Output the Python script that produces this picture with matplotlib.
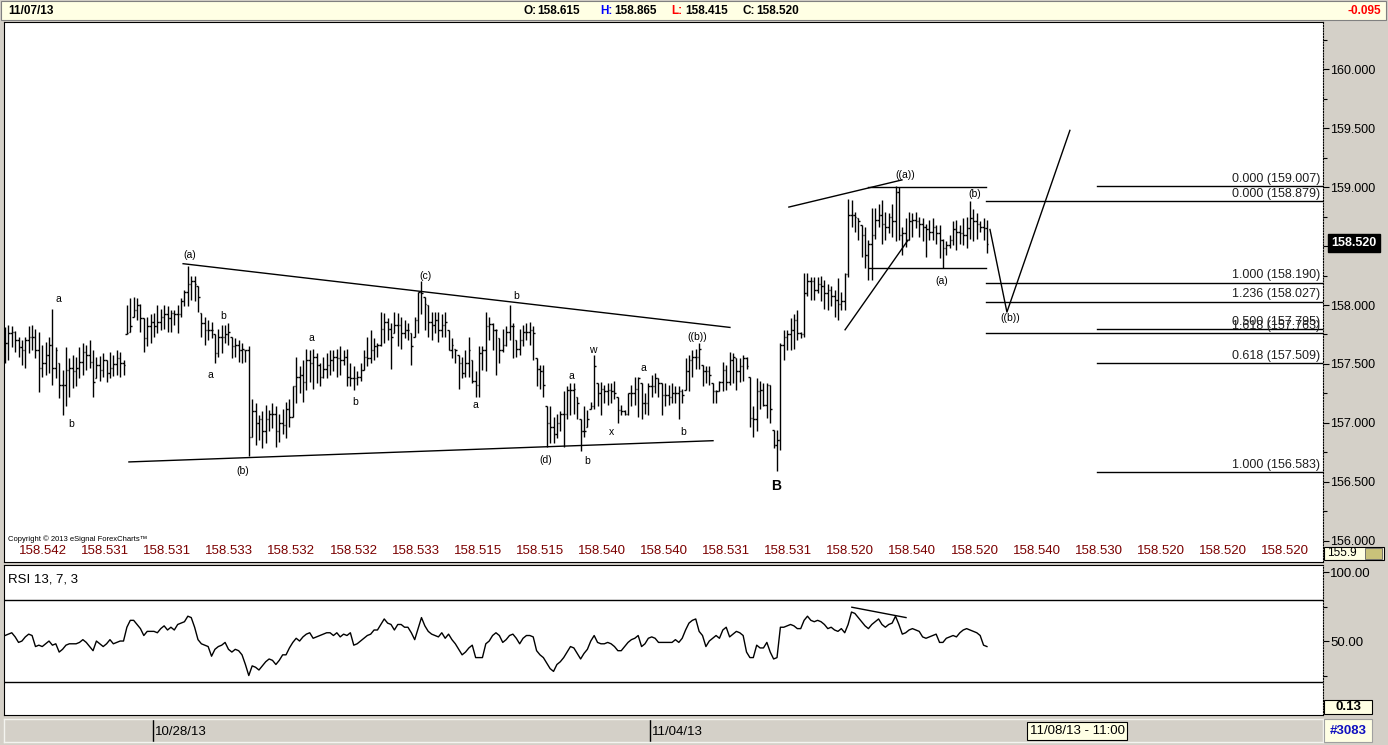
import numpy as np
import matplotlib
matplotlib.use('Agg')
import matplotlib.pyplot as plt
from matplotlib.patches import Rectangle

plt.rcParams['font.family'] = ['Liberation Sans', 'DejaVu Sans']

W, H = 1388, 745

# hourly bars (high / low / close), oldest first
highs = [
    157.81, 157.83, 157.82, 157.78, 157.73, 157.70, 157.73, 157.82, 157.83, 157.80,
    157.77, 157.66, 157.69, 157.73, 157.97, 157.64, 157.51, 157.45, 157.64, 157.55,
    157.58, 157.56, 157.64, 157.68, 157.66, 157.70, 157.62, 157.56, 157.57, 157.59,
    157.53, 157.60, 157.58, 157.62, 157.60, 157.53,
    158.00, 158.06, 158.07, 158.06, 158.01, 157.89, 157.90, 157.92, 157.93, 158.00,
    157.97, 158.00, 157.99, 157.96, 157.96, 158.00, 158.06, 158.13, 158.33, 158.25,
    158.25, 158.16, 157.93, 157.90, 157.87, 157.86, 157.75, 157.80, 157.83, 157.83,
    157.85, 157.73, 157.72, 157.70, 157.68, 157.62,
    157.65, 157.20, 157.17, 157.07, 157.10, 157.15, 157.11, 157.17, 157.14, 157.08,
    157.12, 157.18, 157.20, 157.31, 157.56, 157.48, 157.53, 157.63, 157.62, 157.63,
    157.59, 157.51, 157.56, 157.59, 157.62, 157.62, 157.63,
    157.65, 157.62, 157.63, 157.51, 157.48, 157.44, 157.51, 157.62, 157.73, 157.79,
    157.72, 157.68, 157.94, 157.93, 157.89, 157.85, 157.94, 157.93, 157.90, 157.87,
    157.85, 157.76, 157.90, 158.11, 158.20, 158.07, 158.00, 157.94, 157.94, 157.94,
    157.92, 157.94, 157.79, 157.72, 157.63, 157.58, 157.56, 157.62, 157.73, 157.53,
    157.44, 157.65, 157.65, 157.94, 157.90, 157.85, 157.80, 157.72, 157.80, 157.82,
    158.00, 157.85, 157.70, 157.80, 157.83, 157.85, 157.86, 157.82, 157.55, 157.49,
    157.49, 157.14, 157.14, 157.05, 157.08, 157.10, 157.27, 157.31, 157.34, 157.34,
    157.22, 157.03, 157.14, 157.11, 157.18, 157.58, 157.34, 157.35, 157.32, 157.34,
    157.34, 157.36, 157.22, 157.15, 157.11, 157.25, 157.32, 157.39, 157.39, 157.34,
    157.25, 157.34, 157.41, 157.42, 157.38, 157.34,
    157.34, 157.32, 157.34, 157.31, 157.31, 157.29, 157.55, 157.58, 157.62, 157.63,
    157.68, 157.49, 157.48, 157.48, 157.34, 157.28, 157.36, 157.52, 157.49, 157.60,
    157.59, 157.55, 157.55, 157.58, 157.56, 157.39, 157.14, 157.38, 157.36, 157.34,
    157.34, 157.32, 156.94, 156.94,
    157.68, 157.79, 157.79, 157.89, 157.92, 157.96, 157.77, 158.27, 158.27, 158.24,
    158.24, 158.24, 158.25, 158.21, 158.18, 158.16, 158.13, 158.23, 158.11, 158.27,
    158.90, 158.89, 158.79, 158.74, 158.68, 158.66, 158.55, 158.82, 158.82, 158.86,
    158.89, 158.79, 158.78, 158.86, 159.01, 159.00, 158.66, 158.74, 158.79, 158.78,
    158.79, 158.75, 158.74, 158.69, 158.72, 158.74, 158.68, 158.68, 158.56, 158.54,
    158.59, 158.71, 158.72, 158.68, 158.74, 158.75, 158.88, 158.81, 158.78, 158.71,
    158.74, 158.72,
]
lows = [
    157.51, 157.53, 157.64, 157.60, 157.56, 157.49, 157.47, 157.59, 157.62, 157.55,
    157.26, 157.39, 157.41, 157.42, 157.32, 157.38, 157.21, 157.07, 157.14, 157.22,
    157.30, 157.31, 157.38, 157.41, 157.45, 157.47, 157.22, 157.38, 157.36, 157.39,
    157.35, 157.38, 157.40, 157.41, 157.39, 157.41,
    157.75, 157.77, 157.90, 157.87, 157.77, 157.60, 157.65, 157.68, 157.73, 157.76,
    157.79, 157.80, 157.77, 157.77, 157.83, 157.76, 157.90, 157.99, 157.99, 158.04,
    158.03, 157.94, 157.73, 157.66, 157.70, 157.72, 157.51, 157.56, 157.59, 157.68,
    157.66, 157.55, 157.56, 157.52, 157.51, 157.52,
    156.72, 156.88, 156.81, 156.86, 156.79, 156.83, 156.93, 156.96, 156.80, 156.84,
    156.91, 156.87, 156.97, 157.05, 157.17, 157.25, 157.18, 157.28, 157.35, 157.29,
    157.34, 157.31, 157.38, 157.38, 157.41, 157.44, 157.39,
    157.41, 157.49, 157.31, 157.31, 157.28, 157.32, 157.36, 157.45, 157.48, 157.51,
    157.53, 157.56, 157.65, 157.68, 157.70, 157.46, 157.76, 157.65, 157.63, 157.72,
    157.70, 157.49, 157.73, 157.76, 157.92, 157.79, 157.73, 157.70, 157.76, 157.69,
    157.73, 157.73, 157.62, 157.55, 157.51, 157.29, 157.38, 157.39, 157.39, 157.34,
    157.22, 157.22, 157.45, 157.44, 157.70, 157.62, 157.41, 157.51, 157.60, 157.65,
    157.70, 157.55, 157.56, 157.58, 157.65, 157.70, 157.66, 157.53, 157.31, 157.29,
    157.22, 156.80, 156.83, 156.83, 156.87, 156.93, 156.80, 157.03, 157.07, 157.08,
    157.03, 156.76, 156.88, 156.97, 157.12, 157.12, 157.14, 157.07, 157.17, 157.15,
    157.17, 157.20, 157.00, 157.07, 157.07, 157.07, 157.14, 157.15, 157.05, 157.03,
    157.08, 157.07, 157.22, 157.25, 157.22, 157.07,
    157.14, 157.15, 157.17, 157.17, 157.03, 157.17, 157.28, 157.27, 157.39, 157.46,
    157.46, 157.31, 157.34, 157.32, 157.17, 157.17, 157.27, 157.27, 157.28, 157.32,
    157.34, 157.28, 157.35, 157.36, 157.46, 156.97, 156.88, 156.93, 157.12, 157.14,
    157.04, 157.00, 156.79, 156.59,
    156.77, 157.53, 157.62, 157.62, 157.63, 157.70, 157.72, 157.73, 158.08, 158.04,
    158.04, 158.10, 158.03, 157.97, 157.96, 157.99, 157.90, 157.87, 157.96, 157.96,
    158.24, 158.66, 158.62, 158.55, 158.41, 158.31, 158.21, 158.21, 158.56, 158.66,
    158.52, 158.55, 158.61, 158.58, 158.54, 158.55, 158.42, 158.49, 158.55, 158.58,
    158.65, 158.58, 158.54, 158.41, 158.55, 158.55, 158.52, 158.40, 158.31, 158.42,
    158.48, 158.51, 158.47, 158.52, 158.51, 158.48, 158.56, 158.54, 158.56, 158.62,
    158.55, 158.44,
]
closes = [
    157.68, 157.76, 157.77, 157.70, 157.64, 157.62, 157.70, 157.73, 157.73, 157.62,
    157.47, 157.51, 157.58, 157.66, 157.47, 157.62, 157.32, 157.32, 157.45, 157.47,
    157.44, 157.47, 157.52, 157.60, 157.58, 157.52, 157.35, 157.49, 157.45, 157.53,
    157.42, 157.47, 157.50, 157.55, 157.51, 157.49,
    157.76, 157.82, 157.96, 158.00, 157.89, 157.72, 157.82, 157.86, 157.82, 157.86,
    157.90, 157.92, 157.89, 157.93, 157.92, 157.92, 158.03, 158.11, 158.18, 158.20,
    158.18, 158.07, 157.85, 157.79, 157.79, 157.79, 157.59, 157.73, 157.73, 157.75,
    157.77, 157.65, 157.66, 157.62, 157.63, 157.62,
    156.88, 157.10, 157.00, 157.03, 156.93, 157.03, 157.08, 157.08, 156.93, 157.00,
    156.98, 157.12, 157.05, 157.31, 157.39, 157.41, 157.35, 157.53, 157.51, 157.56,
    157.49, 157.39, 157.46, 157.49, 157.53, 157.56, 157.55,
    157.53, 157.56, 157.39, 157.38, 157.38, 157.39, 157.45, 157.56, 157.55, 157.62,
    157.65, 157.66, 157.80, 157.86, 157.80, 157.73, 157.83, 157.83, 157.76, 157.79,
    157.79, 157.65, 157.87, 158.11, 158.10, 158.01, 157.86, 157.83, 157.87, 157.79,
    157.83, 157.86, 157.62, 157.66, 157.62, 157.51, 157.42, 157.51, 157.62, 157.36,
    157.32, 157.59, 157.62, 157.82, 157.84, 157.79, 157.79, 157.62, 157.66, 157.77,
    157.82, 157.82, 157.63, 157.70, 157.77, 157.77, 157.79, 157.76, 157.46, 157.44,
    157.32, 157.00, 156.97, 156.91, 157.00, 157.08, 157.08, 157.28, 157.28, 157.29,
    157.17, 156.93, 156.93, 157.03, 157.14, 157.48, 157.25, 157.29, 157.27, 157.28,
    157.27, 157.25, 157.11, 157.10, 157.08, 157.25, 157.25, 157.29, 157.38, 157.17,
    157.17, 157.31, 157.31, 157.38, 157.34, 157.24,
    157.24, 157.22, 157.25, 157.25, 157.27, 157.24, 157.44, 157.53, 157.56, 157.56,
    157.63, 157.44, 157.44, 157.41, 157.27, 157.27, 157.35, 157.45, 157.35, 157.53,
    157.56, 157.44, 157.48, 157.55, 157.48, 157.04, 157.03, 157.27, 157.28, 157.15,
    157.32, 157.12, 156.81, 156.86,
    157.66, 157.73, 157.75, 157.79, 157.87, 157.76, 157.75, 158.10, 158.20, 158.20,
    158.13, 158.18, 158.16, 158.10, 158.13, 158.08, 158.04, 158.01, 158.03, 158.26,
    158.76, 158.76, 158.75, 158.71, 158.59, 158.42, 158.52, 158.59, 158.72, 158.76,
    158.69, 158.66, 158.75, 158.71, 158.96, 158.59, 158.61, 158.55, 158.71, 158.72,
    158.71, 158.69, 158.66, 158.64, 158.62, 158.66, 158.61, 158.55, 158.48, 158.51,
    158.55, 158.64, 158.62, 158.61, 158.59, 158.65, 158.74, 158.71, 158.69, 158.66,
    158.65, 158.52,
]
first_open = 157.70

# RSI 13, 7, 3 - one value per bar
rsi = [
    54, 55, 56, 53, 49, 50, 53, 55, 54, 46, 47, 46, 48, 50, 47, 48, 42, 44, 47, 48,
    48, 48, 49, 51, 49, 46, 43, 50, 48, 46, 48, 51, 48, 49, 50, 50, 60, 65, 65, 62,
    59, 54, 57, 57, 57, 56, 59, 61, 58, 60, 58, 62, 63, 64, 68, 67, 60, 51, 48, 47,
    46, 39, 44, 46, 47, 49, 44, 42, 44, 43, 40, 33, 25, 32, 31, 29, 32, 35, 37, 36,
    33, 36, 40, 40, 45, 49, 52, 50, 53, 55, 56, 52, 53, 54, 55, 56, 56, 54, 56, 53,
    55, 54, 56, 47, 48, 50, 52, 54, 55, 58, 58, 62, 66, 63, 62, 58, 62, 62, 60, 60,
    56, 51, 59, 67, 61, 57, 55, 54, 53, 56, 52, 55, 51, 48, 44, 40, 42, 45, 47, 38,
    38, 38, 48, 50, 54, 56, 54, 49, 51, 54, 55, 52, 48, 52, 54, 54, 53, 43, 40, 38,
    34, 30, 28, 33, 35, 38, 42, 46, 45, 41, 37, 41, 44, 50, 54, 49, 48, 48, 49, 48,
    46, 43, 43, 46, 49, 51, 52, 54, 46, 48, 52, 53, 52, 49, 49, 49, 49, 49, 51, 49,
    52, 58, 63, 65, 66, 57, 54, 46, 50, 52, 54, 52, 58, 60, 53, 55, 57, 56, 54, 42,
    38, 38, 47, 45, 45, 49, 42, 37, 38, 60, 60, 61, 62, 61, 59, 59, 65, 68, 65, 64,
    65, 64, 62, 59, 60, 58, 57, 59, 56, 62, 71, 70, 67, 64, 61, 59, 62, 64, 66, 62,
    60, 62, 63, 68, 62, 55, 56, 58, 59, 58, 57, 53, 52, 53, 54, 55, 49, 49, 52, 53,
    54, 53, 56, 58, 59, 58, 57, 56, 54, 47, 46,
]

header_date = '11/07/13'
ohlc_names = ['O:', 'H:', 'L:', 'C:']
ohlc_values = ['158.615', '158.865', '158.415', '158.520']
net_change = '-0.095'
last_price = 158.520

fib_ratios = ['0.000', '0.000', '1.000', '1.236', '0.500', '1.618', '0.618', '1.000']
fib_levels = [159.007, 158.879, 158.190, 158.027, 157.795, 157.763, 157.509, 156.583]
fib_start = [322.5, 289.7, 289.7, 289.7, 322.5, 289.7, 322.5, 322.5]

wave_labels = ['a', 'b', '(a)', 'b', 'a', '(b)', 'a', 'b', '(c)', 'a', 'b', '(d)',
               'a', 'b', 'w', 'x', 'a', 'b', '((b))', '((a))', '(a)', '(b)', '((b))']
wave_bar = [15.7, 19.5, 54.6, 64.4, 60.8, 70.3, 90.4, 103.4, 124.3, 138.8, 150.9, 159.8,
            167.2, 171.9, 173.7, 179.0, 188.4, 200.2, 204.4, 265.8, 276.7, 286.5, 296.8]
wave_price = [158.05, 156.99, 158.42, 157.91, 157.41, 156.59, 157.72, 157.18, 158.25,
              157.15, 158.08, 156.69, 157.40, 156.68, 157.62, 156.92, 157.47, 156.92,
              157.73, 159.10, 158.20, 158.94, 157.89]

# trend lines: (bar0, bar1), (price0, price1)
trend_bars = [(52.6, 214.1), (36.6, 209.1), (231.5, 264.9), (254.9, 289.7),
              (248.1, 266.7), (255.2, 289.7)]
trend_prices = [(158.35, 157.81), (156.67, 156.85), (158.83, 159.06), (159.00, 159.00),
                (157.79, 158.55), (158.31, 158.31)]

forecast_bar = [290.9, 295.9, 314.5]
forecast_price = [158.64, 157.94, 159.48]

rsi_div_bar = [250.1, 266.1]
rsi_div_val = [74.5, 67.0]

bottom_values = ['158.542', '158.531', '158.531', '158.533', '158.532', '158.532',
                 '158.533', '158.515', '158.515', '158.540', '158.540', '158.531',
                 '158.531', '158.520', '158.540', '158.520', '158.540', '158.530',
                 '158.520', '158.520', '158.520']
date_labels = ['10/28/13', '11/04/13']
date_bar = [43.7, 190.5]


def fx(x):
    return x / W


def fy(y):
    return 1 - y / H


GRAY = '#d4d0c8'
CREAM = '#ffffe4'

fig = plt.figure(figsize=(W / 100, H / 100), dpi=100, facecolor=GRAY)

# header strip
fig.patches.append(Rectangle((fx(1), fy(20)), fx(1385), 19 / H, transform=fig.transFigure,
                             facecolor=CREAM, edgecolor='#808080', lw=0.8, zorder=0))
fig.text(fx(8), fy(11), header_date, fontsize=8.5, weight='bold', va='center')
name_x = [523, 600, 671, 742]
name_col = ['black', '#0000ff', '#ff0000', 'black']
for nx, nm, col, val in zip(name_x, ohlc_names, name_col, ohlc_values):
    fig.text(fx(nx), fy(11), nm, color=col, fontsize=8.5, weight='bold', va='center')
    fig.text(fx(nx + 14), fy(11), val, fontsize=8.5, weight='bold', va='center')
fig.text(fx(1381), fy(11), net_change, color='#ff0000', fontsize=8.5, weight='bold',
         va='center', ha='right')

# ---- price panel ----
s = 3.386
x_left, x_right = (4 - 5) / s, (1323 - 5) / s
ax = fig.add_axes([fx(4), fy(562), 1319 / W, 540 / H])
ax.set_xlim(x_left, x_right)
ax.set_ylim(158 - (562 - 305) * 0.008475, 158 + (305 - 22) * 0.008475)

idx = np.arange(len(closes))
hi = np.array(highs)
lo = np.array(lows)
cl = np.array(closes)
op = np.clip(np.r_[first_open, cl[:-1]], lo, hi)
ax.vlines(idx, lo, hi, color='black', lw=1.0)
ax.hlines(op, idx - 0.45, idx, color='black', lw=1.0)
ax.hlines(cl, idx, idx + 0.45, color='black', lw=1.0)

for (b0, b1), (p0, p1) in zip(trend_bars, trend_prices):
    ax.plot([b0, b1], [p0, p1], color='black', lw=1.0)
ax.plot(forecast_bar, forecast_price, color='black', lw=1.0)

for lab, lev, st in zip(fib_ratios, fib_levels, fib_start):
    ax.plot([st, x_right], [lev, lev], color='black', lw=1.0)
    ax.text(x_right - 0.9, lev + 0.012, f'{lab} ({lev:.3f})', ha='right', va='bottom',
            fontsize=9, color='#202020')

for lab, b, p in zip(wave_labels, wave_bar, wave_price):
    ax.text(b, p, lab, ha='center', va='center', fontsize=7.5)
ax.text(227.7, 156.47, 'B', ha='center', va='center', fontsize=10, weight='bold')

# the 158.500 label sits under the last-price marker, so it is left blank
major = np.arange(156.0, 160.01, 0.5)
ax.yaxis.tick_right()
ax.set_yticks(major)
ax.set_yticklabels(['' if abs(v - 158.5) < 1e-6 else f'{v:.3f}' for v in major])
ax.set_yticks(np.arange(156.25, 160.3, 0.5), minor=True)
ax.tick_params(axis='y', which='major', direction='out', length=4, width=0.8, pad=1,
               labelsize=9)
ax.tick_params(axis='y', which='minor', direction='out', length=3, width=0.8)
ax.set_xticks([])
for sp in ax.spines.values():
    sp.set_linewidth(0.8)
ax.spines['right'].set_linestyle((0, (1, 1.5)))

# current price marker
fig.text(fx(1354), fy(243), f'{last_price:.3f}', color='white', weight='bold', fontsize=9,
         ha='center', va='center', zorder=10,
         bbox=dict(boxstyle='square,pad=0.25', facecolor='black', edgecolor='black'))

fig.text(fx(8), fy(539), 'Copyright \u00a9 2013 eSignal ForexCharts\u2122', fontsize=5.5,
         va='center')
for k, val in enumerate(bottom_values):
    fig.text(fx(43 + 62.1 * k), fy(551), val, color='#7b0000', fontsize=9.5,
             ha='center', va='center')

# bottom-right small box of the price scale
fig.patches.append(Rectangle((fx(1324), fy(560)), 60 / W, 13 / H, transform=fig.transFigure,
                             facecolor=CREAM, edgecolor='black', lw=0.8, zorder=5))
fig.patches.append(Rectangle((fx(1365), fy(559)), 17 / W, 11 / H, transform=fig.transFigure,
                             facecolor='#c9c27a', edgecolor='#606060', lw=0.6, zorder=6))
fig.text(fx(1327), fy(553), '155.9', fontsize=8.5, va='center', zorder=6)

# ---- RSI panel ----
ax2 = fig.add_axes([fx(4), fy(715), 1319 / W, 150 / H])
ax2.set_xlim(x_left, x_right)
ax2.set_ylim(-3.6, 105.1)
ax2.plot(np.arange(len(rsi)), rsi, color='black', lw=1.0)
ax2.axhline(80, color='black', lw=1.0)
ax2.axhline(20, color='black', lw=1.0)
ax2.plot(rsi_div_bar, rsi_div_val, color='black', lw=1.0)
ax2.text(0.003, 0.94, 'RSI 13, 7, 3', transform=ax2.transAxes, fontsize=9.5,
         va='top', ha='left')
ax2.yaxis.tick_right()
ax2.set_yticks([50, 100])
ax2.set_yticklabels(['50.00', '100.00'])
ax2.set_yticks([25, 75], minor=True)
ax2.tick_params(axis='y', which='major', direction='out', length=4, width=0.8, pad=1,
                labelsize=9.5)
ax2.tick_params(axis='y', which='minor', direction='out', length=3, width=0.8)
ax2.set_xticks([])
for sp in ax2.spines.values():
    sp.set_linewidth(0.8)
ax2.spines['right'].set_linestyle((0, (1, 1.5)))

fig.patches.append(Rectangle((fx(1324), fy(714)), 48 / W, 14 / H, transform=fig.transFigure,
                             facecolor=CREAM, edgecolor='black', lw=0.8, zorder=5))
fig.text(fx(1348), fy(707), '0.13', fontsize=9.5, weight='bold', ha='center', va='center',
         zorder=6)

# ---- date strip ----
ax3 = fig.add_axes([fx(4), fy(742), 1319 / W, 23 / H], facecolor=GRAY)
ax3.set_xlim(x_left, x_right)
ax3.set_ylim(0, 1)
for b, lab in zip(date_bar, date_labels):
    ax3.axvline(b, color='black', lw=1.0)
    ax3.text(b + 0.6, 0.45, lab, fontsize=9.5, va='center', ha='left')
ax3.set_xticks([])
ax3.set_yticks([])
for sp in ax3.spines.values():
    sp.set_color('#f4f4f0')
    sp.set_linewidth(1.0)

fig.text(fx(1077), fy(731), '11/08/13 - 11:00', fontsize=9.5, ha='center', va='center',
         bbox=dict(boxstyle='square,pad=0.2', facecolor=CREAM, edgecolor='black', lw=0.8))
fig.patches.append(Rectangle((fx(1324), fy(742)), 48 / W, 23 / H, transform=fig.transFigure,
                             facecolor=CREAM, edgecolor='#a0a0a0', lw=0.8, zorder=5))
fig.text(fx(1348), fy(731), '#3083', color='#1010c0', fontsize=9.5, weight='bold',
         ha='center', va='center', zorder=6)

fig.savefig('out.png', dpi=100, facecolor=GRAY)
